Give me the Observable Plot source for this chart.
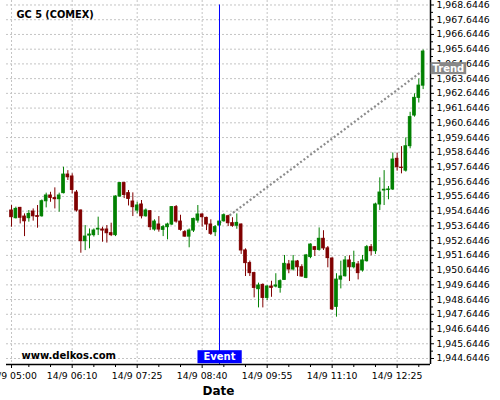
<!DOCTYPE html>
<html><head><meta charset="utf-8">
<script src="https://cdn.jsdelivr.net/npm/d3@7"></script>
<script src="https://cdn.jsdelivr.net/npm/@observablehq/plot@0.6"></script>
<style>body{margin:0;background:#fff}</style>
</head><body><div id="chart"></div>
<script>
const title = "GC 5 (COMEX)";
const watermark = "www.delkos.com";
const axisTitle = "Date";
const dayLabel = "14/9";
const firstCandle = "05:00";
const candleMinutes = 5;

const opens = [1954.69,1954.17,1954.87,1954.28,1954.17,1954.62,1954.31,1954.30,1955.32,1955.71,
 1955.53,1955.46,1955.87,1957.13,1957.00,1955.91,1954.69,1952.61,1952.99,1953.02,
 1953.40,1953.40,1953.40,1953.15,1953.02,1955.64,1956.55,1955.87,1955.30,1954.69,
 1955.10,1954.30,1954.64,1953.40,1953.74,1953.38,1953.56,1953.74,1954.92,1953.94,
 1953.22,1952.92,1953.33,1954.01,1954.42,1954.19,1953.74,1953.22,1953.67,1953.96,
 1954.30,1953.83,1953.66,1953.74,1951.98,1951.12,1950.44,1949.35,1949.64,1948.76,
 1949.53,1949.53,1949.44,1949.98,1951.03,1950.69,1951.23,1950.84,1950.12,1951.53,
 1952.20,1952.02,1952.77,1952.12,1951.43,1948.15,1950.00,1950.23,1951.30,1950.84,
 1951.03,1950.62,1951.25,1952.20,1951.93,1955.10,1956.05,1956.08,1956.12,1958.20,
 1957.60,1957.40,1959.06,1961.14,1962.34,1963.17];
const highs = [1955.03,1954.92,1954.90,1954.46,1954.69,1954.80,1955.03,1955.41,1955.87,1955.93,
 1956.23,1955.87,1957.63,1957.40,1957.18,1956.05,1954.73,1953.67,1953.44,1953.44,
 1954.24,1953.56,1953.67,1953.83,1955.69,1956.59,1956.62,1956.05,1955.89,1955.25,
 1955.37,1954.80,1954.69,1954.06,1954.28,1953.67,1953.83,1954.96,1955.03,1954.37,
 1953.33,1953.44,1954.17,1955.03,1954.46,1954.24,1954.06,1953.67,1954.10,1954.46,
 1954.37,1954.20,1954.46,1953.78,1952.09,1951.26,1950.50,1949.76,1949.71,1949.60,
 1949.89,1950.40,1949.98,1951.64,1951.30,1951.64,1951.30,1951.01,1951.71,1952.43,
 1952.25,1953.51,1953.32,1952.25,1951.48,1950.40,1951.25,1951.57,1951.62,1951.93,
 1951.23,1951.64,1952.32,1952.38,1955.19,1956.91,1957.40,1956.32,1958.60,1958.58,
 1959.03,1959.62,1961.36,1962.61,1963.62,1965.59];
const lows = [1953.56,1954.12,1953.78,1952.92,1953.90,1953.97,1953.49,1954.24,1954.87,1955.25,
 1954.80,1954.58,1955.82,1956.73,1955.82,1954.58,1951.79,1951.97,1952.09,1952.89,
 1952.99,1952.54,1952.48,1952.92,1952.92,1955.60,1955.50,1955.00,1954.28,1954.46,
 1954.12,1954.24,1953.33,1953.29,1953.22,1952.92,1952.70,1953.67,1953.83,1953.29,
 1952.88,1952.16,1953.20,1953.83,1953.56,1953.33,1953.00,1952.92,1953.55,1953.90,
 1953.60,1953.55,1953.42,1951.71,1950.21,1950.21,1948.76,1948.08,1948.08,1948.58,
 1948.80,1949.44,1949.08,1949.98,1950.40,1950.58,1950.21,1950.17,1950.06,1951.42,
 1951.57,1951.93,1951.98,1950.80,1947.90,1947.45,1949.37,1950.17,1949.87,1950.73,
 1949.98,1950.51,1951.19,1951.62,1951.71,1954.69,1955.03,1955.42,1956.05,1957.36,
 1957.18,1957.30,1958.88,1961.03,1961.99,1962.90];
const closes = [1954.24,1954.80,1954.20,1953.96,1954.46,1954.30,1954.26,1955.32,1955.71,1955.55,
 1955.46,1955.71,1957.13,1956.95,1956.09,1954.69,1952.61,1952.92,1953.06,1953.33,
 1953.45,1953.33,1953.15,1953.02,1955.64,1956.55,1955.75,1955.48,1954.92,1955.03,
 1954.30,1954.69,1953.56,1953.94,1953.40,1953.56,1953.74,1954.92,1953.94,1953.38,
 1952.92,1953.33,1954.12,1954.42,1954.24,1953.74,1953.11,1953.56,1953.94,1954.37,
 1953.83,1953.65,1953.85,1951.98,1951.12,1950.44,1949.44,1949.60,1948.76,1949.53,
 1949.44,1949.60,1949.89,1951.07,1950.69,1951.23,1950.84,1950.21,1951.64,1952.38,
 1952.02,1952.77,1952.12,1951.46,1947.98,1950.00,1950.21,1951.30,1950.84,1951.12,
 1950.44,1951.30,1952.20,1951.93,1955.10,1955.91,1956.10,1956.12,1958.15,1957.63,
 1957.58,1959.05,1961.03,1962.34,1963.17,1965.48];

const xTickLabels = ["05:00","06:10","07:25","08:40","09:55","11:10","12:25"];
const yTickValues = [1944.6446,1945.6446,1946.6446,1947.6446,1948.6446,1949.6446,1950.6446,
 1951.6446,1952.6446,1953.6446,1954.6446,1955.6446,1956.6446,1957.6446,1958.6446,1959.6446,
 1960.6446,1961.6446,1962.6446,1963.6446,1964.6446,1965.6446,1966.6446,1967.6446,1968.6446];

const eventTime = "09:00";
const eventLabel = "Event";
const trendTimes = ["09:00","12:55"];
const trendValues = [1953.85, 1964.2];
const trendLabel = "Trend";
const xDomainTimes = ["04:54.2","13:03.5"];
const yDomain = [1944.237, 1968.949];

const GREEN = "#008000", RED = "#800000";

const toMin = s => { const [h, m] = s.split(":"); return +h * 60 + +m; };
const fmtTime = m => `${dayLabel} ${String(Math.floor(m / 60)).padStart(2, "0")}:${String(Math.round(m % 60)).padStart(2, "0")}`;
const t0 = toMin(firstCandle);
const candles = opens.map((o, i) => ({t: t0 + i * candleMinutes, open: o, high: highs[i], low: lows[i], close: closes[i]}));
const up = candles.filter(d => d.close >= d.open);
const down = candles.filter(d => d.close < d.open);
const xMajor = xTickLabels.map(toMin);
const xMinor = [];
xMajor.forEach((m, i) => { if (i > 0) { xMinor.push(m - 25, m - 50); } });
xMinor.push(xMajor[xMajor.length - 1] + 25);
const yMinor = yTickValues.slice(0, -1).map(v => v + 0.5);
const xDomain = xDomainTimes.map(toMin);
const trend = trendTimes.map((s, i) => ({t: toMin(s), v: trendValues[i]}));
const eventT = toMin(eventTime);

const halfBody = 1.5;
const grid = {stroke: "#c4c4c4", strokeOpacity: 1, strokeDasharray: "2,2"};

const chart = Plot.plot({
  width: 500, height: 400,
  marginLeft: 6, marginRight: 70, marginTop: 0, marginBottom: 36,
  x: {type: "linear", domain: xDomain},
  y: {domain: yDomain},
  style: {fontFamily: "DejaVu Sans", fontSize: "9.3px", background: "#fff", color: "#000", overflow: "visible"},
  marks: [
    Plot.gridY({ticks: yTickValues, ...grid}),
    Plot.gridX({ticks: xMajor, ...grid}),
    Plot.line(trend, {x: "t", y: "v", stroke: "#8c8c8c", strokeWidth: 2.2, strokeDasharray: "2,2.2", strokeLinecap: "butt"}),
    Plot.ruleX(up, {x: "t", y1: "low", y2: "high", stroke: GREEN}),
    Plot.ruleX(down, {x: "t", y1: "low", y2: "high", stroke: RED}),
    Plot.rect(up, {x1: d => d.t - halfBody, x2: d => d.t + halfBody, y1: "open", y2: "close", fill: GREEN, stroke: GREEN, strokeWidth: 1}),
    Plot.rect(down, {x1: d => d.t - halfBody, x2: d => d.t + halfBody, y1: "open", y2: "close", fill: RED, stroke: RED, strokeWidth: 1}),
    Plot.ruleX([eventT], {x: d => d, y1: yTickValues[yTickValues.length - 1], y2: yDomain[0], stroke: "#0000ff", strokeWidth: 1}),
    Plot.axisY({anchor: "right", ticks: yTickValues, tickFormat: d3.format(",.4f"), tickSize: 3, tickPadding: 3, label: null}),
    Plot.axisY({anchor: "right", ticks: yMinor, tickFormat: () => "", tickSize: 2, label: null}),
    Plot.axisX({ticks: xMajor, tickFormat: fmtTime, tickSize: 4, tickPadding: 4, label: null}),
    Plot.axisX({ticks: xMinor, tickFormat: () => "", tickSize: 3, label: null}),
    Plot.ruleX([xDomain[1]], {x: d => d, stroke: "#000", strokeWidth: 1.5}),
    Plot.ruleY([yDomain[0]], {y: d => d, stroke: "#000", strokeWidth: 1.5}),
    Plot.text([title], {text: d => d, frameAnchor: "top-left", dx: 10, dy: 11, fontWeight: "bold", fontSize: 9.8, textAnchor: "start", lineAnchor: "top"}),
    Plot.text([watermark], {text: d => d, frameAnchor: "bottom-left", dx: 15, dy: -6, fontWeight: "bold", fontSize: 10, textAnchor: "start", lineAnchor: "bottom"}),
    Plot.text([axisTitle], {text: d => d, frameAnchor: "bottom", dy: 30, fontWeight: "bold", fontSize: 12, textAnchor: "middle", lineAnchor: "bottom"}),
    Plot.text([eventLabel], {x: () => eventT, text: d => d, frameAnchor: "bottom", dy: -7.5, fill: "#fff", fontWeight: "bold", fontSize: 10, textAnchor: "middle", lineAnchor: "middle"}),
    Plot.text([trendLabel], {x: () => xDomain[1], y: () => trendValues[1], text: d => d, dx: 2, dy: -2, fill: "#fff", fontWeight: "bold", fontSize: 10, textAnchor: "start", lineAnchor: "middle"})
  ]
});
document.getElementById("chart").appendChild(chart);

function addBox(label, fill, padX, padTop, padBottom) {
  const el = [...chart.querySelectorAll("text")].find(t => t.textContent === label);
  if (!el) return;
  const b = el.getBBox();
  const r = document.createElementNS("http://www.w3.org/2000/svg", "rect");
  r.setAttribute("x", b.x - padX);
  r.setAttribute("y", b.y - padTop);
  r.setAttribute("width", b.width + 2 * padX);
  r.setAttribute("height", b.height + padTop + padBottom);
  r.setAttribute("fill", fill);
  if (el.getAttribute("transform")) r.setAttribute("transform", el.getAttribute("transform"));
  el.parentNode.insertBefore(r, el);
}
addBox(eventLabel, "#0000ff", 6, 1, 1);
addBox(trendLabel, "#888888", 2, 0.5, 0.5);
</script></body></html>
